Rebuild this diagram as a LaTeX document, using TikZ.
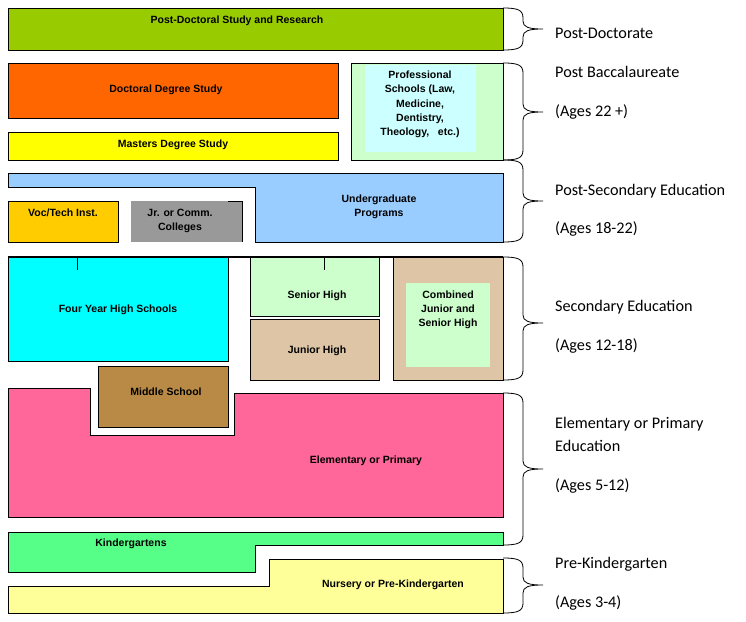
\documentclass[tikz,border=0pt]{standalone}
\usepackage{fontspec}
\setmainfont{Liberation Sans}
\newfontfamily\calibri{Carlito}
\definecolor{postdoc}{HTML}{99CC00}
\definecolor{doctoral}{HTML}{FF6600}
\definecolor{masters}{HTML}{FFFF00}
\definecolor{paleGreen}{HTML}{CCFFCC}
\definecolor{paleCyan}{HTML}{CCFFFF}
\definecolor{ugrad}{HTML}{99CCFF}
\definecolor{voctech}{HTML}{FFCC00}
\definecolor{jrcoll}{HTML}{999999}
\definecolor{fouryear}{HTML}{00FFFF}
\definecolor{tan}{HTML}{DDC5A6}
\definecolor{middle}{HTML}{B88A45}
\definecolor{elem}{HTML}{FF6699}
\definecolor{kinder}{HTML}{55FF88}
\definecolor{nursery}{HTML}{FFFF99}
\tikzset{
  box/.style={draw=black, line width=0.9pt},
  txt/.style={font=\bfseries\fontsize{10.5}{14.3}\selectfont, align=center, inner sep=0pt},
  oneline/.style={text height=7.6pt, text depth=0pt},
  side/.style={font=\calibri\fontsize{16.2}{22}\selectfont, anchor=base west, inner sep=0pt},
  wbrace/.style={draw=black, line width=0.8pt}
}
\newcommand\agebrace[3]{%
  \draw[wbrace] (503,#1) .. controls (518,#1) and (523,#1+2) .. (523,#1+10)
    -- (523,#2-8) .. controls (523,#2-2) and (528,#2) .. (543,#2)
    .. controls (528,#2) and (523,#2+2) .. (523,#2+8)
    -- (523,#3-10) .. controls (523,#3-2) and (518,#3) .. (503,#3);}

\begin{document}
\begin{tikzpicture}[x=1pt, y=-1pt]
  \useasboundingbox (0,0) rectangle (746,621);

  %% post-doctorate and post baccalaureate
  \draw[box, fill=postdoc] (8,8) rectangle (503,50);
  \node[txt, oneline] (postdoc) at (237,20) {Post-Doctoral Study and Research};
  \draw[box, fill=doctoral] (8,63) rectangle (338,118);
  \node[txt, oneline] (doctoral) at (166,89) {Doctoral Degree Study};
  \draw[box, fill=masters] (8,132) rectangle (338,160);
  \node[txt, oneline] (masters) at (173,144) {Masters Degree Study};
  \draw[box, fill=paleGreen] (351,63) rectangle (503,160);
  \fill[paleCyan] (365,65) rectangle (476,152);
  \node[txt] (profschool) at (420,104.5)
    {Professional\\Schools (Law,\\Medicine,\\Dentistry,\\Theology,\ \ \ etc.)};

  %% post-secondary
  \draw[box, fill=ugrad] (8,173) -- (503,173) -- (503,242) -- (255,242)
    -- (255,187) -- (8,187) -- cycle;
  \node[txt] (ugrad) at (379,207) {Undergraduate\\Programs};
  \draw[box, fill=voctech] (8,201) rectangle (118,242);
  \node[txt, oneline] (voctech) at (63,213) {Voc/Tech Inst.};
  \fill[jrcoll] (131,201) rectangle (242,242);
  \draw[box] (228,201) -- (242,201) -- (242,242);
  \node[txt] (jrcoll) at (180,221) {Jr. or Comm.\\Colleges};

  %% secondary
  \draw[box, fill=fouryear] (8,257) rectangle (228,361);
  \node[txt, oneline] (fouryear) at (118,309) {Four Year High Schools};
  \draw[box, fill=paleGreen] (250,257) rectangle (379,316);
  \node[txt, oneline] (senior) at (317,295) {Senior High};
  \draw[box, fill=tan] (250,319) rectangle (379,380);
  \node[txt, oneline] (junior) at (317,350) {Junior High};
  \draw[box, fill=tan] (393,257) rectangle (503,380);
  \fill[paleGreen] (406,283) rectangle (490,367);
  \node[txt] (combined) at (448,310) {Combined\\Junior and\\Senior High};
  \draw[line width=2.5pt] (8,257) -- (503,257);
  \draw[box] (77,257) -- (77,270);
  \draw[box] (324,257) -- (324,270);
  \draw[box, fill=middle] (98,366) rectangle (228,427);
  \node[txt, oneline] (middle) at (166,392) {Middle School};

  %% elementary, kindergarten, nursery
  \draw[box, fill=elem] (8,388) -- (90,388) -- (90,435) -- (234,435) -- (234,393)
    -- (503,393) -- (503,517) -- (8,517) -- cycle;
  \node[txt, oneline] (elem) at (366,460) {Elementary or Primary};
  \draw[box, fill=kinder] (8,532) -- (503,532) -- (503,545) -- (255,545)
    -- (255,572) -- (8,572) -- cycle;
  \node[txt, oneline] (kinder) at (131,543) {Kindergartens};
  \draw[box, fill=nursery] (8,586) -- (269,586) -- (269,559) -- (503,559)
    -- (503,613) -- (8,613) -- cycle;
  \node[txt, oneline] (nursery) at (393,584) {Nursery or Pre-Kindergarten};

  %% braces and levels
  \agebrace{8}{29}{50}
  \agebrace{63}{112}{160}
  \agebrace{160}{201}{242}
  \agebrace{257}{323}{380}
  \agebrace{393}{469}{545}
  \agebrace{558}{585}{613}

  \node[side] (lvpostdoc) at (555,38) {Post-Doctorate};
  \node[side] (lvpostbac) at (555,77) {Post Baccalaureate};
  \node[side] (agepostbac) at (555,116) {(Ages 22 +)};
  \node[side] (lvpostsec) at (555,195) {Post-Secondary Education};
  \node[side] (agepostsec) at (555,233) {(Ages 18-22)};
  \node[side] (lvsec) at (555,311) {Secondary Education};
  \node[side] (agesec) at (555,350) {(Ages 12-18)};
  \node[side] (lvelem) at (555,428) {Elementary or Primary};
  \node[side] (lvelemb) at (555,451) {Education};
  \node[side] (ageelem) at (555,490) {(Ages 5-12)};
  \node[side] (lvprek) at (555,568) {Pre-Kindergarten};
  \node[side] (ageprek) at (555,607) {(Ages 3-4)};

\end{tikzpicture}
\end{document}
